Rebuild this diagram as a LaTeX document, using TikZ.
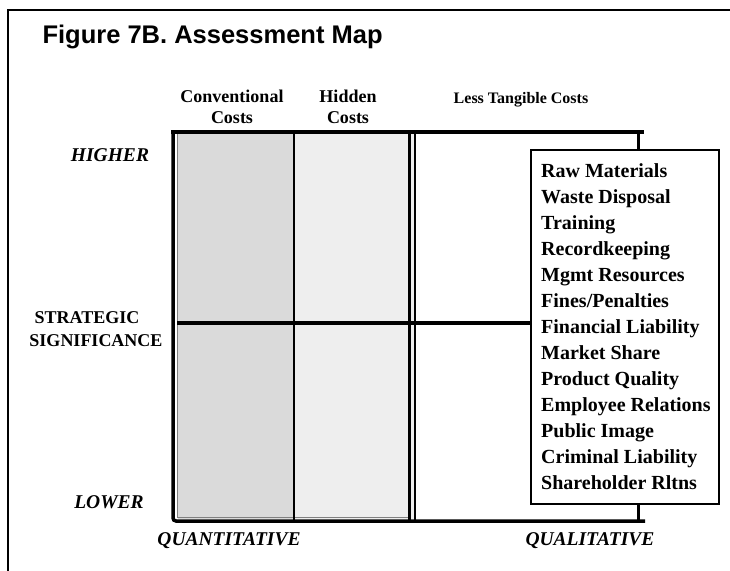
\documentclass[tikz,border=0pt]{standalone}
\usepackage{fontspec}
\setmainfont{Liberation Serif}
\setsansfont{Liberation Sans}
\usetikzlibrary{positioning}

\definecolor{convgray}{HTML}{DADADA}
\definecolor{hidgray}{HTML}{EEEEEE}

\begin{document}
\begin{tikzpicture}[x=1pt, y=-1pt,
    head/.style={font=\bfseries\fontsize{18}{21}\selectfont, align=center},
    axis/.style={font=\bfseries\itshape\fontsize{19.5}{22}\selectfont},
    thick line/.style={line width=3.5pt},
    tick/.style={line width=3pt}]
        \useasboundingbox (0,0) rectangle (730,570);

        % Add the frame
        \draw[line width=1.2pt] (8,575) -- (8,10) -- (735,10);

        % Add the title
        \node[font=\sffamily\bfseries\fontsize{25.5}{30}\selectfont, anchor=base west]
            (title) at (39,43) {Figure 7B. Assessment Map};

        % Add the shaded columns
        \fill[convgray] (178,134) rectangle (294,519);
        \fill[hidgray]  (294,134) rectangle (414,519);

        % Add the grid
        \coordinate (tl) at (173,132);
        \coordinate (bl) at (173,521);
        \coordinate (tr) at (644,132);
        \coordinate (br) at (645,521);
        \draw[thick line] (171,132) -- (tr);
        \draw[thick line, rounded corners=3pt] (tl) -- (bl) -- (br);
        \draw[gray, line width=0.8pt] (177.5,134) -- (177.5,517) -- (408,517);
        \draw[line width=1.5pt] (294,132) -- (294,521);
        \draw[line width=3pt] (409,132) -- (409,521);
        \draw[line width=2pt] (414.5,132) -- (414.5,521);

        % Add the list box
        \node[draw, line width=2pt, fill=white, anchor=north west,
              minimum width=188pt, minimum height=354pt] (box) at (530,149) {};
        \node[font=\bfseries\fontsize{20}{26}\selectfont, align=left, anchor=west,
              inner sep=0pt] (list) at (541,326.5)
            {Raw Materials\\Waste Disposal\\Training\\Recordkeeping\\Mgmt Resources\\
             Fines/Penalties\\Financial Liability\\Market Share\\Product Quality\\
             Employee Relations\\Public Image\\Criminal Liability\\Shareholder Rltns};
        \draw[thick line] (177,323) -- (box.west |- 0,323);
        \draw[tick] (638,132) -- (638,149);
        \draw[tick] (638,503) -- (638,521);

        % Add the column heads
        \node[head] (conv) at (232,107) {Conventional\\Costs};
        \node[head] (hid)  at (348,107) {Hidden\\Costs};
        \node[head, font=\bfseries\fontsize{16}{19}\selectfont] (less) at (521,100) {Less Tangible Costs};

        % Add the axis labels
        \node[axis] (high) at (110,155) {HIGHER};
        \node[head] (strat) at (87,318) {STRATEGIC};
        \node[head] (sig)   at (96,341) {SIGNIFICANCE};
        \node[axis] (low)  at (109,502) {LOWER};
        \node[axis] (quan) at (229,541) {QUANTITATIVE};
        \node[axis] (qual) at (590,541) {QUALITATIVE};
\end{tikzpicture}
\end{document}
